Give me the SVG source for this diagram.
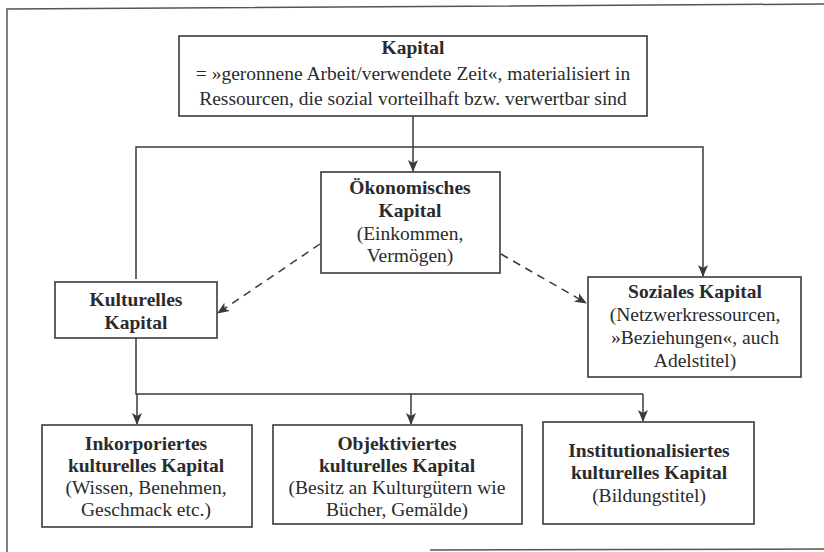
<svg xmlns="http://www.w3.org/2000/svg" width="824" height="552" viewBox="0 0 824 552" font-family="'Liberation Serif', 'DejaVu Serif', 'Times New Roman', serif">
<defs>
<marker id="arr" viewBox="0 0 12 10" refX="11" refY="5" markerWidth="12" markerHeight="10" markerUnits="userSpaceOnUse" orient="auto">
<path d="M0,0 L12,5 L0,10 L3,5 z" fill="#3a3a3a"/>
</marker>
<style>
.box{fill:#fff;stroke:#3a3a3a;stroke-width:1.6}
.ln{fill:none;stroke:#3a3a3a;stroke-width:1.5}
.dash{fill:none;stroke:#3a3a3a;stroke-width:1.5;stroke-dasharray:8 6}
.t{font-family:'Liberation Serif','DejaVu Serif',serif;fill:#2b2b2b;text-anchor:middle;font-size:19.5px}
.b{font-weight:bold}
.frame{fill:none;stroke:#555;stroke-width:1.5}
</style>
</defs>
<rect width="824" height="552" fill="#fff"/>
<path class="frame" d="M7,552 L7,9 L824,4"/>
<path class="frame" d="M430,550 L824,549"/>

<g id="connectors">
<path class="ln" d="M413,116 L413,171" marker-end="url(#arr)"/>
<path class="ln" d="M136,279 L136,147 L703,147 L703,276" marker-end="url(#arr)"/>
<path class="dash" d="M320,244 L218,313" marker-end="url(#arr)"/>
<path class="dash" d="M501,254 L586,303" marker-end="url(#arr)"/>
<path class="ln" d="M136,338 L136,394 L643,394"/>
<path class="ln" d="M137,394 L137,424" marker-end="url(#arr)"/>
<path class="ln" d="M411,394 L411,424" marker-end="url(#arr)"/>
<path class="ln" d="M643,394 L643,421" marker-end="url(#arr)"/>
</g>

<g id="kapital" class="t">
<rect class="box" x="179" y="36" width="468" height="80"/>
<text class="b" x="413" y="54">Kapital</text>
<text x="413" y="80">= »geronnene Arbeit/verwendete Zeit«, materialisiert in</text>
<text x="413" y="105">Ressourcen, die sozial vorteilhaft bzw. verwertbar sind</text>
</g>

<g id="oekonomisches" class="t">
<rect class="box" x="321" y="172" width="179" height="101"/>
<text class="b" x="410" y="194">Ökonomisches</text>
<text class="b" x="410" y="217">Kapital</text>
<text x="410" y="240">(Einkommen,</text>
<text x="410" y="262">Vermögen)</text>
</g>

<g id="kulturelles" class="t">
<rect class="box" x="55" y="282" width="162" height="56"/>
<text class="b" x="136" y="306">Kulturelles</text>
<text class="b" x="136" y="329">Kapital</text>
</g>

<g id="soziales" class="t">
<rect class="box" x="588" y="277" width="213" height="100"/>
<text class="b" x="695" y="298">Soziales Kapital</text>
<text x="695" y="321">(Netzwerkressourcen,</text>
<text x="695" y="344">»Beziehungen«, auch</text>
<text x="695" y="367">Adelstitel)</text>
</g>

<g id="inkorporiertes" class="t">
<rect class="box" x="42" y="425" width="210" height="102"/>
<text class="b" x="146" y="450">Inkorporiertes</text>
<text class="b" x="146" y="472">kulturelles Kapital</text>
<text x="146" y="494">(Wissen, Benehmen,</text>
<text x="146" y="516">Geschmack etc.)</text>
</g>

<g id="objektiviertes" class="t">
<rect class="box" x="273" y="425" width="249" height="99"/>
<text class="b" x="397" y="450">Objektiviertes</text>
<text class="b" x="397" y="472">kulturelles Kapital</text>
<text x="397" y="494">(Besitz an Kulturgütern wie</text>
<text x="397" y="516">Bücher, Gemälde)</text>
</g>

<g id="institutionalisiertes" class="t">
<rect class="box" x="543" y="422" width="211" height="102"/>
<text class="b" x="649" y="457">Institutionalisiertes</text>
<text class="b" x="649" y="479">kulturelles Kapital</text>
<text x="649" y="502">(Bildungstitel)</text>
</g>
</svg>
